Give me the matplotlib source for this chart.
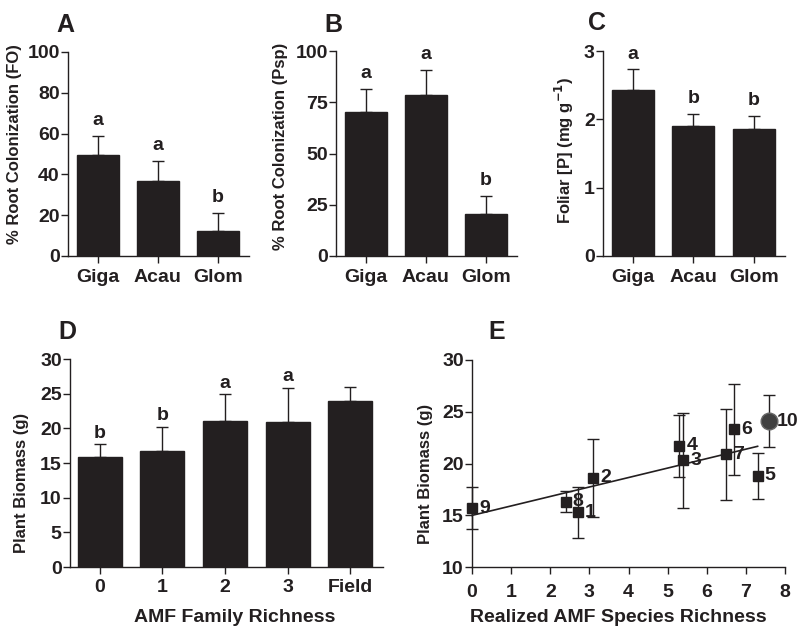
import matplotlib
matplotlib.use("Agg")
import matplotlib.pyplot as plt
import numpy as np

plt.rcParams['font.family'] = ['Liberation Sans', 'DejaVu Sans']
plt.rcParams['font.weight'] = 'bold'
plt.rcParams['axes.labelweight'] = 'bold'
INK = '#231f20'

# ---------------- data ----------------
fungi = ['Giga', 'Acau', 'Glom']
colon_fo = [49.5, 37.0, 12.5]
colon_fo_err = [9.5, 9.4, 8.5]
colon_fo_letters = ['a', 'a', 'b']

colon_psp = [70.1, 78.5, 20.3]
colon_psp_err = [11.2, 12.2, 9.0]
colon_psp_letters = ['a', 'a', 'b']

foliar_p = [2.43, 1.90, 1.86]
foliar_p_err = [0.30, 0.18, 0.19]
foliar_p_letters = ['a', 'b', 'b']

family_rich = ['0', '1', '2', '3', 'Field']
biomass_fam = [15.9, 16.7, 21.1, 20.9, 24.0]
biomass_fam_err = [1.8, 3.5, 3.8, 4.9, 2.0]
biomass_fam_letters = ['b', 'b', 'a', 'a', '']

comm_ids = ['1', '2', '3', '4', '5', '6', '7', '8', '9']
species_rich = [2.7, 3.1, 5.4, 5.3, 7.3, 6.7, 6.5, 2.4, 0.0]
biomass_comm = [15.3, 18.6, 20.3, 21.7, 18.8, 23.3, 20.9, 16.3, 15.7]
biomass_comm_err = [2.45, 3.8, 4.6, 3.0, 2.2, 4.4, 4.4, 1.0, 2.0]
field_id = '10'
field_rich = 7.6
field_biomass = 24.1
field_err = 2.5

W, H = 799, 629
fig = plt.figure(figsize=(W / 100, H / 100), dpi=100)


def ax_px(left, top, right, bottom):
    return fig.add_axes([left / W, 1 - bottom / H, (right - left) / W, (bottom - top) / H])


def style(ax, xpad=4):
    for s in ['top', 'right']:
        ax.spines[s].set_visible(False)
    for s in ['left', 'bottom']:
        ax.spines[s].set_linewidth(1.0)
        ax.spines[s].set_color(INK)
    ax.tick_params(axis='both', direction='out', length=5, width=1.0, color=INK,
                   labelcolor=INK, labelsize=14)
    ax.tick_params(axis='y', pad=1)
    ax.tick_params(axis='x', pad=xpad)


def bar_panel(ax, cats, vals, errs, letters, ylim, yticks, ylabel, lab_xy, letter_off, xlim):
    x = np.arange(len(cats))
    ax.bar(x, vals, width=0.7, color=INK, edgecolor=INK, zorder=2)
    ax.errorbar(x, vals, yerr=[np.zeros(len(vals)), errs], fmt='none', ecolor=INK,
                elinewidth=1.0, capsize=4, capthick=1.0, zorder=1)
    for xi, v, e, l in zip(x, vals, errs, letters):
        if l:
            ax.annotate(l, (xi, v + e), xytext=(0, letter_off), textcoords='offset points',
                        ha='center', va='bottom', fontsize=14, fontweight='bold', color=INK)
    ax.set_xlim(*xlim)
    ax.set_ylim(*ylim)
    ax.set_yticks(yticks)
    ax.set_xticks(x)
    ax.set_xticklabels(cats)
    ax.set_ylabel(ylabel, fontsize=12, fontweight='bold', color=INK, va='center')
    ax.yaxis.set_label_coords(*lab_xy)
    style(ax)


axA = ax_px(68, 52, 249, 256)
bar_panel(axA, fungi, colon_fo, colon_fo_err, colon_fo_letters, (0, 100),
          [0, 20, 40, 60, 80, 100], '% Root Colonization (FO)', (-0.293, 0.551), 5, (-0.5, 2.52))
axB = ax_px(336, 51, 517, 256)
bar_panel(axB, fungi, colon_psp, colon_psp_err, colon_psp_letters, (0, 100),
          [0, 25, 50, 75, 100], '% Root Colonization (Psp)', (-0.309, 0.537), 5, (-0.5, 2.52))
axC = ax_px(603, 51, 785, 256)
bar_panel(axC, fungi, foliar_p, foliar_p_err, foliar_p_letters, (0, 3),
          [0, 1, 2, 3], 'Foliar [P] (mg g$^{\\mathbf{-1}}$)', (-0.211, 0.517), 5, (-0.5, 2.52))
axD = ax_px(70, 359, 383, 567)
bar_panel(axD, family_rich, biomass_fam, biomass_fam_err, biomass_fam_letters, (0, 30),
          [0, 5, 10, 15, 20, 25, 30], 'Plant Biomass (g)', (-0.154, 0.406), 2, (-0.475, 4.52))
axD.set_xlabel('AMF Family Richness', fontsize=14, fontweight='bold', color=INK, va='center')
axD.xaxis.set_label_coords((235 - 70) / 313, -(618 - 567) / 208)

# Panel E
axE = ax_px(472, 360, 785, 567)
axE.errorbar(species_rich, biomass_comm, yerr=biomass_comm_err, fmt='s', color=INK,
             ms=6.5, elinewidth=1.0, capsize=4, capthick=1.0, clip_on=False, zorder=3)
axE.errorbar([field_rich], [field_biomass], yerr=[field_err], fmt='o', mfc='#404040',
             mec='#666666', ecolor=INK, ms=12, elinewidth=1.0, capsize=4, capthick=1.0,
             clip_on=False, zorder=3)
slope, inter = np.polyfit(species_rich, biomass_comm, 1)
xf = np.array([0, max(species_rich)])
axE.plot(xf, inter + slope * xf, color=INK, lw=1.2, zorder=2, clip_on=False)
for xi, yi, t in zip(species_rich, biomass_comm, comm_ids):
    axE.annotate(t, (xi, yi), xytext=(5, 0), textcoords='offset points', ha='left',
                 va='center', fontsize=14, fontweight='bold', color=INK)
axE.annotate(field_id, (field_rich, field_biomass), xytext=(5, 0), textcoords='offset points',
             ha='left', va='center', fontsize=14, fontweight='bold', color=INK)
axE.set_xlim(0, 8)
axE.set_ylim(10, 30)
axE.set_xticks(range(0, 9))
axE.set_yticks([10, 15, 20, 25, 30])
axE.set_ylabel('Plant Biomass (g)', fontsize=12, fontweight='bold', color=INK, va='center')
axE.yaxis.set_label_coords(-0.149, 0.449)
axE.set_xlabel('Realized AMF Species Richness', fontsize=14, fontweight='bold', color=INK, va='center')
axE.xaxis.set_label_coords((618 - 472) / 313, -(618 - 567) / 207)
style(axE, xpad=7)

# panel letters
for t, x, y in [('A', 65, 25), ('B', 333, 25), ('C', 597, 23), ('D', 67, 332), ('E', 497, 332)]:
    fig.text(x / W, 1 - y / H, t, fontsize=18, fontweight='bold', color=INK, ha='center', va='center')

fig.savefig('out.png', dpi=100)
